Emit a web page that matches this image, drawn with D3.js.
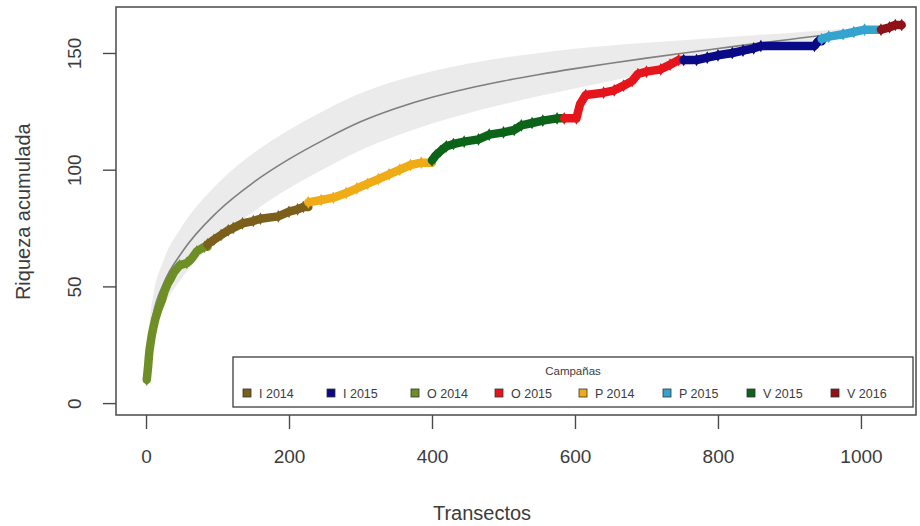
<!DOCTYPE html>
<html>
<head>
<meta charset="utf-8">
<script src="https://cdn.jsdelivr.net/npm/d3@7"></script>
<style>
  body { margin: 0; background: #fff; }
  svg { display: block; font-family: "Liberation Sans", Arial, sans-serif; }
</style>
</head>
<body>
<div id="chart"></div>
<script>
// tick labels
let xTicks = [0, 200, 400, 600, 800, 1000];
let yTicks = [0, 50, 100, 150];

// expected accumulation curve (gray) and its half band width
let expX  = [1, 5, 10, 25, 50, 100, 150, 200, 250, 300, 350, 400, 450, 500, 550, 600, 650, 700, 750, 800, 850, 900, 950, 1000, 1057];
let expY  = [15, 29, 38, 51.5, 64.5, 82, 94.5, 104.5, 113, 120.5, 126.3, 131, 134.8, 138, 140.8, 143.3, 145.6, 147.8, 149.9, 151.9, 153.9, 155.8, 157.7, 159.5, 161.5];
let expSD = [2, 6, 8, 10, 11, 12, 12.5, 12.5, 12.5, 12.2, 11.8, 11.2, 10.6, 10, 9.2, 8.5, 7.6, 6.6, 5.6, 4.6, 3.7, 2.8, 2, 1.2, 0];

// observed richness, breakpoints of the curve
let obsX = [1, 2, 3, 4, 5, 6, 8, 10, 13, 17, 22, 26, 30, 34, 39, 47, 57, 64, 71, 82,
            86, 95, 105, 115, 122, 135, 150, 160, 185, 200, 212, 220,
            227, 245, 262, 280, 295, 310, 325, 340, 355, 370, 385,
            400, 405, 412, 420, 430, 445, 465, 480, 500, 515, 525, 540, 555, 575,
            585, 602, 607, 615, 640, 655, 668, 680, 688, 700, 720, 733, 745,
            752, 770, 785, 800, 820, 835, 850, 860, 935, 940,
            945, 955, 975, 990, 1005,
            1028, 1040, 1048, 1057];
let obsY = [10, 13, 16, 20, 23, 25, 29, 32, 36, 40, 44, 48, 51, 53, 56, 59, 60, 62, 65, 67,
            68, 70, 72, 74, 75, 77, 78, 79, 80, 82, 83, 84,
            86, 87, 88, 90, 92, 94, 96, 98, 100, 102, 103,
            104, 106, 108, 110, 111, 112, 113, 115, 116, 117, 119, 120, 121, 122,
            122, 122, 128, 132, 133, 134, 136, 138, 141, 142, 143, 145, 147,
            147, 147, 148, 149, 150, 151, 152, 153, 153, 155,
            156, 157, 158, 159, 160,
            160, 161, 162, 162];

// campaigns in sampling order, with the first transect of each
let campaigns = ["O 2014", "I 2014", "P 2014", "V 2015", "O 2015", "I 2015", "P 2015", "V 2016"];
let campaignStart = [1, 86, 227, 400, 585, 752, 945, 1028];

// legend labels (alphabetical, as in the legend) and colours
let legendLabels = ["I 2014", "I 2015", "O 2014", "O 2015", "P 2014", "P 2015", "V 2015", "V 2016"];
let legendColors = ["#7b5f1b", "#0a0a86", "#6d8f26", "#e4151b", "#efac17", "#34a4cf", "#0c6419", "#8e1217"];

let color = d3.scaleOrdinal().domain(legendLabels).range(legendColors);

let W = 920, H = 526,
    margin = {top: 7, right: 4, bottom: 111, left: 116},
    width = W - margin.left - margin.right,
    height = H - margin.top - margin.bottom;

let x = d3.scaleLinear().domain([-42, 1077]).range([0, width]);
let y = d3.scaleLinear().domain([-5.1, 169.7]).range([height, 0]);

let svg = d3.select("#chart").append("svg")
    .attr("width", W)
    .attr("height", H);

let g = svg.append("g")
    .attr("transform", "translate(" + margin.left + "," + margin.top + ")");

let textColor = "#3c3c3c";

// band + expected curve
let expData = expX.map(function (d, i) { return {x: d, y: expY[i], sd: expSD[i]}; });
let area = d3.area()
    .x(function (d) { return x(d.x); })
    .y0(function (d) { return y(d.y - d.sd); })
    .y1(function (d) { return y(d.y + d.sd); })
    .curve(d3.curveMonotoneX);
g.append("path")
    .datum(expData)
    .attr("d", area)
    .attr("fill", "#ebebeb");

let line = d3.line()
    .x(function (d) { return x(d.x); })
    .y(function (d) { return y(d.y); })
    .curve(d3.curveMonotoneX);
g.append("path")
    .datum(expData)
    .attr("d", line)
    .attr("fill", "none")
    .attr("stroke", "#7f7f7f")
    .attr("stroke-width", 1.6);

// observed curve, one segment per campaign
let obs = obsX.map(function (d, i) { return {x: d, y: obsY[i]}; });
let obsLine = d3.line()
    .x(function (d) { return x(d.x); })
    .y(function (d) { return y(d.y); });

campaigns.forEach(function (c, i) {
    let start = campaignStart[i];
    let next = i < campaigns.length - 1 ? campaignStart[i + 1] : Infinity;
    let pts = obs.filter(function (d) { return d.x >= start && d.x < next; });
    let seg = pts.slice();
    let nxt = obs.find(function (d) { return d.x >= next; });
    if (nxt) seg.push({x: nxt.x, y: pts[pts.length - 1].y});

    g.append("path")
        .datum(seg)
        .attr("d", obsLine)
        .attr("fill", "none")
        .attr("stroke", color(c))
        .attr("stroke-width", 8.5)
        .attr("stroke-linejoin", "round")
        .attr("stroke-linecap", "round");

    g.selectAll(".pt" + i)
        .data(pts).enter()
        .append("path")
        .attr("d", d3.symbol().type(d3.symbolDiamond).size(46))
        .attr("transform", function (d) { return "translate(" + x(d.x) + "," + y(d.y) + ")"; })
        .attr("fill", color(c));
});

// box
g.append("rect")
    .attr("width", width)
    .attr("height", height)
    .attr("fill", "none")
    .attr("stroke", "#4a4a4a")
    .attr("stroke-width", 1.5);

// axes
let xAxis = g.append("g")
    .attr("transform", "translate(0," + height + ")")
    .call(d3.axisBottom(x).tickValues(xTicks).tickSize(14).tickPadding(21).tickFormat(d3.format("d")));
xAxis.select(".domain").remove();
xAxis.selectAll("line").attr("stroke", "#4a4a4a").attr("stroke-width", 1.4);
xAxis.selectAll("text")
    .attr("fill", textColor)
    .style("font-size", "19px")
    .style("font-family", "Liberation Sans, Arial, sans-serif");

let yAxis = g.append("g")
    .call(d3.axisLeft(y).tickValues(yTicks).tickSize(13).tickFormat(d3.format("d")));
yAxis.select(".domain").remove();
yAxis.selectAll("line").attr("stroke", "#4a4a4a").attr("stroke-width", 1.4);
yAxis.selectAll("text")
    .attr("fill", textColor)
    .attr("x", null)
    .attr("dy", null)
    .attr("text-anchor", "middle")
    .attr("transform", "translate(-35,0) rotate(-90)")
    .style("font-size", "19px")
    .style("font-family", "Liberation Sans, Arial, sans-serif");

// axis titles
svg.append("text")
    .attr("x", margin.left + x(470))
    .attr("y", 520)
    .attr("text-anchor", "middle")
    .attr("fill", textColor)
    .style("font-size", "20px")
    .text("Transectos");

svg.append("text")
    .attr("transform", "translate(30," + (margin.top + y(82)) + ") rotate(-90)")
    .attr("text-anchor", "middle")
    .attr("fill", textColor)
    .style("font-size", "20px")
    .text("Riqueza acumulada");

// legend
let lg = svg.append("g").attr("transform", "translate(233,357)");
lg.append("rect")
    .attr("width", 680)
    .attr("height", 50)
    .attr("fill", "#fff")
    .attr("stroke", "#3c3c3c")
    .attr("stroke-width", 1.3);
lg.append("text")
    .attr("x", 340)
    .attr("y", 18)
    .attr("text-anchor", "middle")
    .attr("fill", textColor)
    .style("font-size", "11.5px")
    .text("Campañas");

let item = lg.selectAll(".item")
    .data(legendLabels).enter()
    .append("g")
    .attr("class", "item")
    .attr("transform", function (d, i) { return "translate(" + (14 + i * 84) + ",36)"; });
item.append("rect")
    .attr("x", -4).attr("y", -4)
    .attr("width", 8).attr("height", 8)
    .attr("fill", function (d) { return color(d); })
    .attr("stroke", "#333")
    .attr("stroke-width", 0.8);
item.append("text")
    .attr("x", 12)
    .attr("y", 4.5)
    .attr("fill", textColor)
    .style("font-size", "12.5px")
    .text(function (d) { return d; });
</script>
</body>
</html>
